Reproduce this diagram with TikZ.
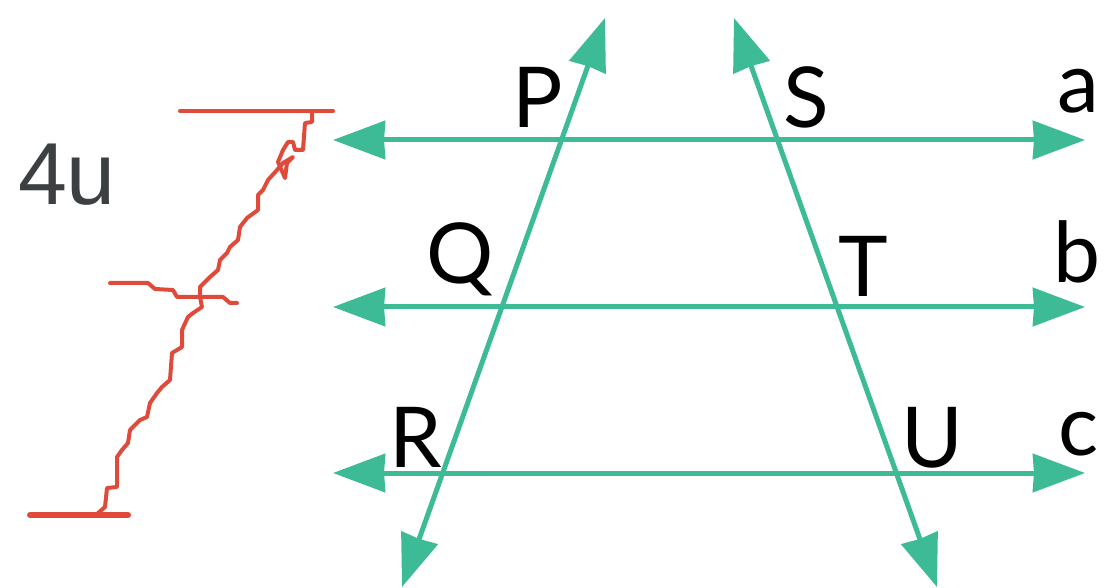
\documentclass[tikz,border=0pt]{standalone}
\usepackage{fontspec}
\setmainfont{Lato}
\newfontfamily\numfont{Liberation Sans}
\usetikzlibrary{arrows.meta}
\definecolor{lineclr}{HTML}{3DBB96}
\definecolor{markclr}{HTML}{E04A3A}
\definecolor{textclr}{HTML}{3D4043}

\begin{document}
\begin{tikzpicture}[x=0.5pt,y=-0.5pt,
  tip/.style={Stealth[length=26pt,width=19pt,inset=0.5pt]},
  ln/.style={lineclr,line width=2.5pt,{Stealth[length=26pt,width=19pt,inset=0.5pt]}-{Stealth[length=26pt,width=19pt,inset=0.5pt]}},
  lbl/.style={font=\fontsize{42}{46}\selectfont,inner sep=0pt,anchor=base},
  redmark/.style={markclr,line width=2pt,line join=round,line cap=round}]
\useasboundingbox (0,0) rectangle (1104,588);
% parallel lines a, b, c
\coordinate (aL) at (333,140); \coordinate (aR) at (1085,140);
\coordinate (bL) at (333,307); \coordinate (bR) at (1085,307);
\coordinate (cL) at (333,473); \coordinate (cR) at (1085,473);
% transversals
\coordinate (t1T) at (605,18); \coordinate (t1B) at (402,587);
\coordinate (t2T) at (734,18); \coordinate (t2B) at (937,587);
\draw[ln] (aL)--(aR); \draw[ln] (bL)--(bR); \draw[ln] (cL)--(cR);
\draw[ln] (t1B)--(t1T); \draw[ln] (t2B)--(t2T);
% point labels
\node[lbl] (P) at (538,128) {P};
\node[lbl] (Q) at (460,284) {Q};
\node[lbl] (R) at (416,467) {R};
\node[lbl] (S) at (806,128) {S};
\node[lbl] (T) at (863,297) {T};
\node[lbl] (U) at (932,467) {U};
\node[lbl] (a) at (1078,113) {a};
\node[lbl] (b) at (1077,283) {b};
\node[lbl] (c) at (1079,455) {c};
% hand drawn measure
\node[font=\numfont\fontsize{44}{48}\selectfont,text=textclr,inner sep=0pt,anchor=base] (len) at (67,205) {4u};
\draw[redmark] (180,111)--(333,111);
\draw[redmark,line width=3pt] (30,515)--(128,515);
\draw[redmark] (110,283)--(148,283)--(155,289)--(173,290)--(177,297)--(200,297)--(223,297)--(230,303)--(237,303);
\draw[redmark] (312,111)--(312,122)--(305,123)--(303,150)--(295,150)--(293,142)--(288,142)--(283,150)--(278,162)
  --(285,178)--(287,163)--(293,157)--(283,163)--(277,170)--(268,180)--(263,190)--(258,195)--(258,210)
  --(247,218)--(240,227)--(238,240)--(230,247)--(227,253)--(220,260)--(218,270)--(210,277)--(200,287)
  --(200,297)--(202,307)--(193,313)--(188,317)--(182,330)--(182,347)--(172,353)--(170,380)--(162,387)
  --(157,393)--(150,403)--(147,417)--(140,420)--(130,430)--(128,443)--(122,450)--(117,457)--(117,487)
  --(107,488)--(105,507)--(97,514);
\end{tikzpicture}
\end{document}
